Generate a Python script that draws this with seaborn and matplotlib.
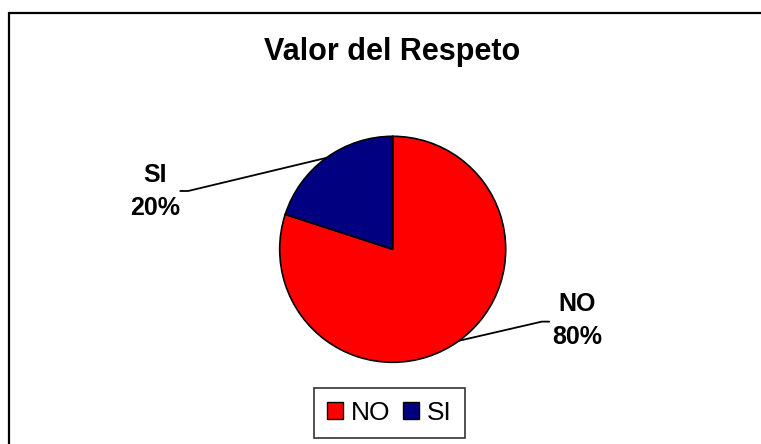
import numpy as np
import matplotlib
matplotlib.use("Agg")
import matplotlib.pyplot as plt
from matplotlib.patches import Patch, Rectangle
import seaborn as sns

# datos
categorias = ["NO", "SI"]
valores = [80, 20]
colores = ["#FF0000", "#000080"]
titulo = "Valor del Respeto"

sns.set_theme(style="white")
plt.rcParams['font.family'] = ['Liberation Sans', 'DejaVu Sans']
plt.rcParams['text.color'] = 'black'

W, H = 761, 444
fig = plt.figure(figsize=(W / 100, H / 100), dpi=100)
fig.patch.set_facecolor("white")

# marco del grafico
fig.patches.append(Rectangle((8.5 / W, -0.2), 1.2, 1.2 - 13 / H, transform=fig.transFigure,
                             fill=False, edgecolor="black", linewidth=1.6, zorder=0))

cx, cy, r = 392.7, 249.3, 113
ax = fig.add_axes([(cx - r) / W, (H - cy - r) / H, 2 * r / W, 2 * r / H])
wedges, _ = ax.pie(valores, colors=sns.color_palette(colores), startangle=90, counterclock=False,
                   wedgeprops=dict(edgecolor="black", linewidth=1.2))
ax.set_xlim(-1, 1)
ax.set_ylim(-1, 1)
ax.set_aspect("equal")
ax.axis("off")

# etiquetas con lineas guia
etiquetas = [
    dict(txt=(1.63, -0.63), codo=[(1.32, -0.64), (1.385, -0.64)]),
    dict(txt=(-2.10, 0.51), codo=[(-1.81, 0.516), (-1.88, 0.516)]),
]
for w, cat, val, et in zip(wedges, categorias, valores, etiquetas):
    ang = np.deg2rad((w.theta1 + w.theta2) / 2)
    xs = [np.cos(ang)] + [p[0] for p in et["codo"]]
    ys = [np.sin(ang)] + [p[1] for p in et["codo"]]
    ax.plot(xs, ys, color="black", linewidth=1.3, clip_on=False)
    ax.text(et["txt"][0], et["txt"][1], f"{cat}\n{val}%", ha="center", va="center",
            fontsize=18, fontweight="bold", linespacing=1.5, clip_on=False)

fig.text(392 / W, 1 - 52 / H, titulo, ha="center", va="center", fontsize=22, fontweight="bold")

handles = [Patch(facecolor=c, edgecolor="black", linewidth=1) for c in colores]
leg = fig.legend(handles, categorias, loc="lower center", bbox_to_anchor=(389.5 / W, 6 / H),
                 ncol=2, fontsize=19, frameon=True, fancybox=False, handlelength=0.6,
                 handleheight=0.6, handletextpad=0.3, columnspacing=0.5, borderpad=0.5,
                 borderaxespad=0)
leg.get_frame().set_edgecolor("black")
leg.get_frame().set_linewidth(1.2)

fig.savefig("out.png", dpi=100)
